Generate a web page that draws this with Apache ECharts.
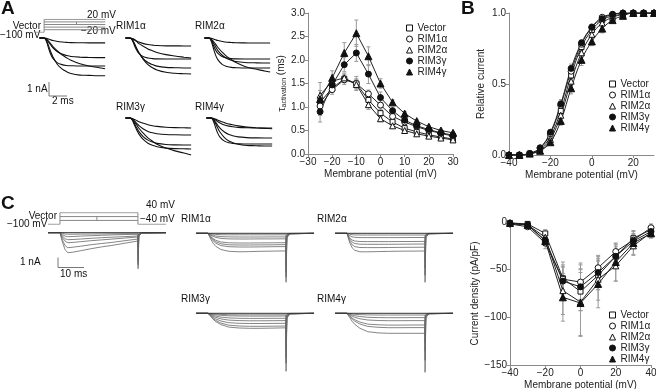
<!DOCTYPE html>
<html>
<head>
<meta charset="utf-8">
<script src="https://cdn.jsdelivr.net/npm/echarts@6/dist/echarts.min.js"></script>
<style>
  html, body { margin: 0; padding: 0; background: #fff; }
  #main { width: 656px; height: 389px; }
</style>
</head>
<body>
<div id="main"></div>
<script>
// ---------- data ----------
const groups = ['Vector', 'RIM1α', 'RIM2α', 'RIM3γ', 'RIM4γ']

// A right: activation time constant (ms)
const tauVoltage = [-25, -20, -15, -10, -5, 0, 5, 10, 15, 20, 25, 30]
const tauVector = [1.1, 1.4, 1.6, 1.5, 1.15, 0.87, 0.68, 0.55, 0.47, 0.41, 0.36, 0.32]
const tauRim1a = [1.02, 1.37, 1.58, 1.5, 1.28, 1.04, 0.8, 0.68, 0.58, 0.5, 0.44, 0.38]
const tauRim2a = [1.25, 1.55, 1.62, 1.48, 1.05, 0.75, 0.6, 0.5, 0.43, 0.38, 0.34, 0.3]
const tauRim3g = [0.9, 1.47, 1.9, 2.15, 1.7, 1.2, 0.92, 0.72, 0.6, 0.52, 0.45, 0.4]
const tauRim4g = [1.17, 1.62, 2.15, 2.57, 2.08, 1.5, 1.1, 0.86, 0.7, 0.58, 0.5, 0.45]
const tauVectorErr = [0.1, 0.08, 0.08, 0.1, 0.1, 0.08, 0.05, 0.04, 0.03, 0.03, 0.03, 0.02]
const tauRim1aErr = [0.1, 0.1, 0.1, 0.15, 0.08, 0.06, 0.05, 0.04, 0.03, 0.03, 0.03, 0.03]
const tauRim2aErr = [0.1, 0.08, 0.1, 0.1, 0.1, 0.06, 0.04, 0.03, 0.02, 0.02, 0.02, 0.02]
const tauRim3gErr = [0.22, 0.12, 0.15, 0.18, 0.2, 0.12, 0.08, 0.05, 0.04, 0.04, 0.03, 0.03]
const tauRim4gErr = [0.35, 0.15, 0.22, 0.28, 0.2, 0.1, 0.05, 0.04, 0.03, 0.03, 0.03, 0.03]

// B: relative current (activation curve)
const actVoltage = [-40, -35, -30, -25, -20, -15, -10, -5, 0, 5, 10, 15, 20, 25, 30]
const actVector = [0, 0, 0.01, 0.04, 0.13, 0.31, 0.56, 0.76, 0.88, 0.95, 0.98, 0.99, 1, 1, 1]
const actRim1a = [0, 0, 0.01, 0.05, 0.15, 0.35, 0.59, 0.78, 0.9, 0.97, 0.99, 1, 1, 1, 1]
const actRim2a = [0, 0, 0.01, 0.03, 0.11, 0.28, 0.52, 0.72, 0.85, 0.93, 0.97, 0.99, 1, 1, 1]
const actRim3g = [0, 0, 0.01, 0.05, 0.16, 0.36, 0.61, 0.79, 0.9, 0.96, 0.99, 1, 1, 1, 1]
const actRim4g = [0, 0, 0.01, 0.03, 0.09, 0.24, 0.47, 0.67, 0.8, 0.89, 0.95, 0.98, 1, 1, 1]
const actVectorErr = [0, 0, 0, 0.01, 0.02, 0.02, 0.02, 0.02, 0.01, 0.01, 0.01, 0, 0, 0, 0]
const actRim1aErr = [0, 0, 0, 0.01, 0.02, 0.03, 0.03, 0.02, 0.02, 0.01, 0.01, 0, 0, 0, 0]
const actRim2aErr = [0, 0, 0, 0.01, 0.02, 0.03, 0.03, 0.03, 0.02, 0.02, 0.01, 0.01, 0, 0, 0]
const actRim3gErr = [0, 0, 0, 0.01, 0.02, 0.03, 0.03, 0.02, 0.02, 0.01, 0.01, 0, 0, 0, 0]
const actRim4gErr = [0, 0, 0, 0.01, 0.02, 0.03, 0.04, 0.04, 0.03, 0.03, 0.02, 0.01, 0, 0, 0]

// C right: current density (pA/pF)
const ivVoltage = [-40, -30, -20, -10, 0, 10, 20, 30, 40]
const ivVector = [-1, -2, -12, -59, -73, -56, -36, -17, -8]
const ivRim1a = [-2, -5, -22, -60, -63, -48, -31, -19, -6]
const ivRim2a = [-1, -3, -16, -72, -84, -60, -46, -25, -11]
const ivRim3g = [-2, -3, -19, -62, -68, -53, -36, -20, -10]
const ivRim4g = [-1, -3, -20, -79, -85, -65, -42, -22, -12]
const ivVectorErr = [1, 2, 4, 12, 20, 15, 10, 8, 4]
const ivRim1aErr = [1, 2, 6, 15, 18, 12, 8, 6, 4]
const ivRim2aErr = [1, 2, 5, 25, 35, 22, 16, 10, 4]
const ivRim3gErr = [1, 2, 5, 20, 25, 18, 12, 8, 4]
const ivRim4gErr = [1, 2, 5, 25, 35, 25, 20, 12, 5]

// A left: current traces (nA) vs time (ms)
const traceTimeA = [-0.5, 0, 0.25, 0.5, 0.75, 1, 1.5, 2, 2.5, 3, 4, 5, 6, 6.8]
const tracesAVector = [
  [0, 0, -0.02, -0.07, -0.13, -0.18, -0.25, -0.29, -0.31, -0.33, -0.34, -0.35, -0.35, -0.35],
  [0, 0, -0.07, -0.28, -0.5, -0.7, -0.98, -1.15, -1.25, -1.32, -1.37, -1.39, -1.4, -1.4],
  [0, 0, -0.2, -0.7, -1.16, -1.46, -1.78, -1.9, -1.96, -1.98, -2, -2, -2, -2],
  [0, 0, -0.07, -0.23, -0.41, -0.61, -0.93, -1.2, -1.41, -1.59, -1.84, -2.0, -2.11, -2.2],
  [0, 0, -0.14, -0.54, -0.97, -1.35, -1.89, -2.21, -2.4, -2.54, -2.65, -2.67, -2.7, -2.7]
]
const tracesARim1a = [
  [0, 0, -0.03, -0.11, -0.21, -0.29, -0.4, -0.47, -0.51, -0.54, -0.56, -0.56, -0.57, -0.57],
  [0, 0, -0.04, -0.15, -0.26, -0.4, -0.6, -0.78, -0.91, -1.03, -1.19, -1.29, -1.37, -1.43],
  [0, 0, -0.15, -0.53, -0.87, -1.1, -1.34, -1.43, -1.47, -1.49, -1.5, -1.5, -1.5, -1.5],
  [0, 0, -0.11, -0.43, -0.77, -1.07, -1.5, -1.75, -1.9, -2.01, -2.1, -2.12, -2.14, -2.14],
  [0, 0, -0.1, -0.4, -0.75, -1.05, -1.55, -1.9, -2.12, -2.28, -2.45, -2.52, -2.55, -2.57]
]
const tracesARim2a = [
  [0, 0, -0.02, -0.07, -0.13, -0.18, -0.25, -0.3, -0.32, -0.34, -0.35, -0.36, -0.36, -0.36],
  [0, 0, -0.15, -0.53, -0.87, -1.1, -1.34, -1.43, -1.47, -1.49, -1.5, -1.5, -1.5, -1.5],
  [0, 0, -0.09, -0.36, -0.64, -0.9, -1.25, -1.47, -1.59, -1.68, -1.75, -1.77, -1.79, -1.79],
  [0, 0, -0.21, -0.75, -1.24, -1.56, -1.9, -2.03, -2.1, -2.12, -2.14, -2.14, -2.14, -2.14],
  [0, 0, -0.08, -0.25, -0.45, -0.68, -1.03, -1.33, -1.55, -1.75, -2.03, -2.2, -2.33, -2.43]
]
const tracesARim3g = [
  [0, 0, -0.03, -0.1, -0.18, -0.26, -0.38, -0.48, -0.55, -0.6, -0.66, -0.69, -0.7, -0.71],
  [0, 0, -0.05, -0.2, -0.38, -0.54, -0.79, -0.96, -1.06, -1.12, -1.18, -1.2, -1.21, -1.21],
  [0, 0, -0.1, -0.39, -0.7, -0.97, -1.35, -1.58, -1.72, -1.81, -1.89, -1.92, -1.93, -1.93],
  [0, 0, -0.14, -0.5, -0.85, -1.15, -1.55, -1.8, -1.95, -2.05, -2.15, -2.19, -2.2, -2.21],
  [0, 0, -0.08, -0.28, -0.5, -0.73, -1.1, -1.42, -1.66, -1.87, -2.15, -2.35, -2.5, -2.64]
]
const tracesARim4g = [
  [0, 0, -0.04, -0.14, -0.26, -0.36, -0.5, -0.58, -0.63, -0.67, -0.7, -0.71, -0.71, -0.71],
  [0, 0, -0.02, -0.08, -0.15, -0.22, -0.33, -0.43, -0.5, -0.56, -0.65, -0.7, -0.74, -0.77],
  [0, 0, -0.07, -0.29, -0.52, -0.72, -1.0, -1.18, -1.28, -1.35, -1.4, -1.42, -1.43, -1.43],
  [0, 0, -0.19, -0.65, -1.08, -1.36, -1.65, -1.77, -1.82, -1.84, -1.86, -1.86, -1.86, -1.86],
  [0, 0, -0.1, -0.4, -0.72, -1.0, -1.4, -1.64, -1.78, -1.88, -1.96, -1.98, -2.0, -2.0]
]

// C left: current traces (nA) vs time (ms), with tail current at step end
const traceTimeC = [-4.6, 0, 1, 2, 3, 5, 8, 12, 16, 20, 25, 30, 30.05, 30.35, 31.5, 40.8]
const tracesCVector = [
  [0, 0, -0.07, -0.13, -0.15, -0.15, -0.14, -0.13, -0.12, -0.11, -0.1, -0.1, -0.8, -0.06, -0.01, 0],
  [0, 0, -0.2, -0.34, -0.4, -0.38, -0.34, -0.3, -0.26, -0.22, -0.18, -0.15, -1.5, -0.12, -0.02, 0],
  [0, 0, -0.35, -0.6, -0.7, -0.68, -0.63, -0.56, -0.5, -0.45, -0.39, -0.33, -2.2, -0.18, -0.03, 0],
  [0, 0, -0.5, -0.85, -1.0, -0.97, -0.9, -0.8, -0.72, -0.64, -0.53, -0.43, -2.8, -0.23, -0.03, 0],
  [0, 0, -0.75, -1.3, -1.5, -1.45, -1.35, -1.2, -1.08, -0.97, -0.8, -0.63, -3.2, -0.27, -0.04, 0],
  [0, 0, -1.0, -1.7, -2.0, -1.95, -1.8, -1.6, -1.42, -1.27, -1.05, -0.83, -3.6, -0.3, -0.05, 0]
]
const tracesCRim1a = [
  [0, 0, -0.05, -0.08, -0.11, -0.14, -0.15, -0.15, -0.15, -0.15, -0.15, -0.15, -1.0, -0.08, -0.01, 0],
  [0, 0, -0.11, -0.2, -0.27, -0.33, -0.36, -0.37, -0.37, -0.37, -0.36, -0.36, -1.8, -0.15, -0.02, 0],
  [0, 0, -0.17, -0.31, -0.41, -0.51, -0.56, -0.57, -0.57, -0.56, -0.56, -0.55, -2.6, -0.2, -0.03, 0],
  [0, 0, -0.29, -0.53, -0.7, -0.87, -0.95, -0.97, -0.97, -0.96, -0.95, -0.94, -3.3, -0.28, -0.04, 0],
  [0, 0, -0.35, -0.64, -0.84, -1.05, -1.15, -1.17, -1.17, -1.16, -1.15, -1.13, -3.9, -0.33, -0.05, 0],
  [0, 0, -0.41, -0.75, -0.99, -1.23, -1.34, -1.37, -1.37, -1.36, -1.34, -1.33, -4.4, -0.37, -0.05, 0],
  [0, 0, -0.55, -1.0, -1.3, -1.62, -1.8, -1.85, -1.83, -1.8, -1.78, -1.76, -4.9, -0.45, -0.06, 0]
]
const tracesCRim2a = [
  [0, 0, -0.09, -0.14, -0.16, -0.17, -0.17, -0.17, -0.17, -0.17, -0.17, -0.17, -1.0, -0.08, -0.01, 0],
  [0, 0, -0.22, -0.35, -0.4, -0.43, -0.43, -0.43, -0.43, -0.43, -0.42, -0.42, -1.9, -0.15, -0.02, 0],
  [0, 0, -0.42, -0.67, -0.77, -0.82, -0.83, -0.83, -0.83, -0.82, -0.82, -0.81, -2.8, -0.22, -0.03, 0],
  [0, 0, -0.55, -0.88, -1.02, -1.09, -1.1, -1.1, -1.1, -1.09, -1.08, -1.07, -3.5, -0.28, -0.04, 0],
  [0, 0, -0.72, -1.15, -1.33, -1.42, -1.43, -1.43, -1.42, -1.41, -1.4, -1.39, -4.2, -0.34, -0.05, 0],
  [0, 0, -0.9, -1.45, -1.7, -1.85, -1.85, -1.83, -1.81, -1.79, -1.78, -1.77, -4.9, -0.42, -0.06, 0]
]
const tracesCRim3g = [
  [0, 0, -0.03, -0.06, -0.08, -0.11, -0.14, -0.15, -0.15, -0.15, -0.15, -0.15, -1.2, -0.08, -0.01, 0],
  [0, 0, -0.06, -0.11, -0.15, -0.2, -0.25, -0.27, -0.28, -0.28, -0.28, -0.27, -2.0, -0.15, -0.02, 0],
  [0, 0, -0.1, -0.2, -0.28, -0.38, -0.46, -0.5, -0.51, -0.51, -0.5, -0.5, -2.9, -0.22, -0.03, 0],
  [0, 0, -0.15, -0.3, -0.41, -0.56, -0.68, -0.73, -0.75, -0.75, -0.74, -0.73, -3.7, -0.3, -0.04, 0],
  [0, 0, -0.2, -0.41, -0.56, -0.77, -0.94, -1.0, -1.02, -1.02, -1.01, -1.0, -4.4, -0.37, -0.05, 0],
  [0, 0, -0.26, -0.52, -0.71, -0.98, -1.19, -1.27, -1.3, -1.3, -1.29, -1.27, -5.0, -0.42, -0.06, 0],
  [0, 0, -0.3, -0.6, -0.83, -1.13, -1.38, -1.47, -1.5, -1.5, -1.48, -1.45, -5.8, -0.5, -0.07, 0]
]
const tracesCRim4g = [
  [0, 0, -0.03, -0.07, -0.1, -0.13, -0.16, -0.17, -0.17, -0.17, -0.17, -0.17, -1.2, -0.08, -0.01, 0],
  [0, 0, -0.09, -0.17, -0.24, -0.32, -0.4, -0.43, -0.44, -0.44, -0.43, -0.43, -2.0, -0.15, -0.02, 0],
  [0, 0, -0.15, -0.29, -0.4, -0.55, -0.67, -0.72, -0.74, -0.74, -0.73, -0.73, -2.9, -0.22, -0.03, 0],
  [0, 0, -0.23, -0.47, -0.64, -0.88, -1.08, -1.15, -1.18, -1.18, -1.17, -1.17, -3.8, -0.3, -0.04, 0],
  [0, 0, -0.29, -0.57, -0.79, -1.07, -1.31, -1.4, -1.44, -1.44, -1.43, -1.43, -4.7, -0.37, -0.05, 0],
  [0, 0, -0.4, -0.8, -1.1, -1.5, -1.84, -1.96, -2.0, -2.0, -2.0, -2.0, -5.9, -0.45, -0.06, 0]
]

// voltage protocols (schematic levels, mV)
const protocolALevels = ['−100', '−20', '−10', '0', '10', '20']
const protocolCLevels = ['−100', '−40', '0', '40']
const protocolAEnd = 6.8
const protocolCEnd = 30

// scale bars
const scaleA = { nA: 1, ms: 2 }
const scaleC = { nA: 1, ms: 10 }

// ---------- styling ----------
const FONT = 'Liberation Sans'
const groupStyle = {
  'Vector': { symbol: 'rect', size: 5, fill: '#fff' },
  'RIM1α': { symbol: 'circle', size: 6, fill: '#fff' },
  'RIM2α': { symbol: 'triangle', size: 6, fill: '#fff' },
  'RIM3γ': { symbol: 'circle', size: 6, fill: '#111' },
  'RIM4γ': { symbol: 'triangle', size: 7, fill: '#111' }
}

const grids = []
const xAxes = []
const yAxes = []
const series = []

function addPanel (box, xOpt, yOpt) {
  grids.push({ left: box[0], top: box[1], width: box[2], height: box[3], containLabel: false, outerBoundsMode: 'none' })
  const idx = grids.length - 1
  xAxes.push(Object.assign({ gridIndex: idx }, xOpt))
  yAxes.push(Object.assign({ gridIndex: idx }, yOpt))
  return idx
}

const minus = v => String(v).replace('-', '−')
function axisStyle (extra) {
  return Object.assign({
    type: 'value',
    axisLine: { show: true, onZero: false, lineStyle: { color: '#8a8a8a', width: 1 } },
    axisTick: { show: true, length: 3, lineStyle: { color: '#8a8a8a' } },
    axisLabel: { color: '#222', fontSize: 10, fontFamily: FONT, margin: 3, formatter: minus },
    splitLine: { show: false },
    nameLocation: 'middle',
    nameTextStyle: { color: '#222', fontSize: 10, fontFamily: FONT }
  }, extra)
}
const hidden = (min, max) => ({ type: 'value', show: false, min, max })

function dataSeries (idx, name, xs, ys, smooth) {
  const st = groupStyle[name]
  series.push({
    type: 'line',
    name,
    xAxisIndex: idx,
    yAxisIndex: idx,
    data: xs.map((x, i) => [x, ys[i]]),
    symbol: st.symbol,
    symbolSize: st.size,
    showAllSymbol: true,
    smooth: smooth,
    itemStyle: { color: st.fill, borderColor: '#111', borderWidth: 1 },
    lineStyle: { color: '#222', width: 1 },
    z: 3,
    silent: true
  })
}

function errorBars (idx, xs, ys, errs) {
  series.push({
    type: 'custom',
    xAxisIndex: idx,
    yAxisIndex: idx,
    silent: true,
    z: 1,
    data: xs.map((x, i) => [x, ys[i] - errs[i], ys[i] + errs[i]]),
    encode: { x: 0, y: [1, 2] },
    renderItem (params, api) {
      const lo = api.coord([api.value(0), api.value(1)])
      const hi = api.coord([api.value(0), api.value(2)])
      const c = 2
      const st = { stroke: '#9a9a9a', lineWidth: 1 }
      return {
        type: 'group',
        children: [
          { type: 'line', shape: { x1: lo[0], y1: lo[1], x2: hi[0], y2: hi[1] }, style: st },
          { type: 'line', shape: { x1: lo[0] - c, y1: lo[1], x2: lo[0] + c, y2: lo[1] }, style: st },
          { type: 'line', shape: { x1: hi[0] - c, y1: hi[1], x2: hi[0] + c, y2: hi[1] }, style: st }
        ]
      }
    }
  })
}

function traceSeries (idx, times, traces, color, width, smooth) {
  traces.forEach(tr => {
    series.push({
      type: 'line',
      xAxisIndex: idx,
      yAxisIndex: idx,
      data: times.map((t, i) => [t, tr[i]]),
      symbol: 'none',
      smooth: smooth,
      lineStyle: { color, width },
      silent: true,
      clip: false
    })
  })
}

function segment (idx, pts, color, width) {
  series.push({
    type: 'line',
    xAxisIndex: idx,
    yAxisIndex: idx,
    data: pts,
    symbol: 'none',
    lineStyle: { color, width },
    silent: true,
    clip: false
  })
}

// ---------- panel A right: tau ----------
const gTau = addPanel([308, 13, 145, 141],
  axisStyle({ min: -30, max: 30, interval: 10, name: 'Membrane potential (mV)', nameGap: 15 }),
  axisStyle({
    min: 0, max: 3, interval: 0.5, nameGap: 19,
    name: '{t|τ}{s|activation} (ms)',
    axisLabel: { color: '#222', fontSize: 10, fontFamily: FONT, margin: 3, formatter: v => v.toFixed(1) },
    nameTextStyle: { color: '#222', fontSize: 10, fontFamily: FONT, rich: { t: { fontSize: 11, fontFamily: FONT, color: '#222' }, s: { fontSize: 7, fontFamily: FONT, color: '#222', verticalAlign: 'bottom', padding: [4, 0, 0, 0] } } }
  }))
;[[tauVector, tauVectorErr], [tauRim1a, tauRim1aErr], [tauRim2a, tauRim2aErr], [tauRim3g, tauRim3gErr], [tauRim4g, tauRim4gErr]]
  .forEach(([v, e]) => errorBars(gTau, tauVoltage, v, e))
dataSeries(gTau, 'Vector', tauVoltage, tauVector, false)
dataSeries(gTau, 'RIM1α', tauVoltage, tauRim1a, false)
dataSeries(gTau, 'RIM2α', tauVoltage, tauRim2a, false)
dataSeries(gTau, 'RIM3γ', tauVoltage, tauRim3g, false)
dataSeries(gTau, 'RIM4γ', tauVoltage, tauRim4g, false)

// ---------- panel B ----------
const gAct = addPanel([509, 13, 145, 142],
  axisStyle({ min: -40, max: 30, interval: 20, name: 'Membrane potential (mV)', nameGap: 15,
    axisLabel: { color: '#222', fontSize: 10, fontFamily: FONT, margin: 3, formatter: minus, showMaxLabel: false } }),
  axisStyle({ min: 0, max: 1, interval: 0.5, name: 'Relative current', nameGap: 23,
    axisLabel: { color: '#222', fontSize: 10, fontFamily: FONT, margin: 3, formatter: v => v.toFixed(1) } }))
;[[actVector, actVectorErr], [actRim1a, actRim1aErr], [actRim2a, actRim2aErr], [actRim3g, actRim3gErr], [actRim4g, actRim4gErr]]
  .forEach(([v, e]) => errorBars(gAct, actVoltage, v, e))
dataSeries(gAct, 'Vector', actVoltage, actVector, 0.4)
dataSeries(gAct, 'RIM1α', actVoltage, actRim1a, 0.4)
dataSeries(gAct, 'RIM2α', actVoltage, actRim2a, 0.4)
dataSeries(gAct, 'RIM3γ', actVoltage, actRim3g, 0.4)
dataSeries(gAct, 'RIM4γ', actVoltage, actRim4g, 0.4)

// ---------- panel C right: IV ----------
const gIv = addPanel([510, 222, 141, 143],
  axisStyle({ min: -40, max: 40, interval: 20, name: 'Membrane potential (mV)', nameGap: 15 }),
  axisStyle({ min: -150, max: 0, interval: 50, name: 'Current density (pA/pF)', nameGap: 27 }))
;[[ivVector, ivVectorErr], [ivRim1a, ivRim1aErr], [ivRim2a, ivRim2aErr], [ivRim3g, ivRim3gErr], [ivRim4g, ivRim4gErr]]
  .forEach(([v, e]) => errorBars(gIv, ivVoltage, v, e))
dataSeries(gIv, 'Vector', ivVoltage, ivVector, false)
dataSeries(gIv, 'RIM1α', ivVoltage, ivRim1a, false)
dataSeries(gIv, 'RIM2α', ivVoltage, ivRim2a, false)
dataSeries(gIv, 'RIM3γ', ivVoltage, ivRim3g, false)
dataSeries(gIv, 'RIM4γ', ivVoltage, ivRim4g, false)

// ---------- panel A left: protocol + traces (9 px/ms, 14 px/nA) ----------
const gProtA = addPanel([36, 19.3, 69.3, 13], hidden(-0.9, 6.8),
  { type: 'category', show: false, boundaryGap: false, data: protocolALevels })
segment(gProtA, [[-0.9, 0], [0, 0], [0, protocolALevels.length - 1]], '#888', 1)
for (let k = 1; k < protocolALevels.length; k++) segment(gProtA, [[0, k], [protocolAEnd, k]], '#888', 1)
segment(gProtA, [[3.6, 3], [3.6, 4]], '#888', 1)

const traceBoxesA = [
  [39, 35.2, tracesAVector],
  [125, 35.2, tracesARim1a],
  [204, 35.2, tracesARim2a],
  [125, 115.2, tracesARim3g],
  [206, 115.2, tracesARim4g]
]
traceBoxesA.forEach(([l, t, tr]) => {
  const g = addPanel([l, t, 66.15, 44.8], hidden(-0.55, 6.8), hidden(-3, 0.2))
  traceSeries(g, traceTimeA, tr, '#111', 1.1, 0.35)
})
const gScaleA = addPanel([49, 82, 18, 14], hidden(0, scaleA.ms), hidden(0, scaleA.nA))
segment(gScaleA, [[0, scaleA.nA], [0, 0], [scaleA.ms, 0]], '#777', 1)

// ---------- panel C left: protocol + traces (2.6 px/ms, 10 px/nA) ----------
const gProtC = addPanel([48, 212.7, 118, 11.6], hidden(-4.6, 40.8),
  { type: 'category', show: false, boundaryGap: false, data: protocolCLevels })
const topC = protocolCLevels.length - 1
segment(gProtC, [[-4.6, 0], [0, 0], [0, topC]], '#888', 1)
for (let k = 1; k < protocolCLevels.length; k++) segment(gProtC, [[0, k], [protocolCEnd, k]], '#888', 1)
segment(gProtC, [[protocolCEnd, topC], [protocolCEnd, 0], [40.8, 0]], '#888', 1)
segment(gProtC, [[14.2, 1], [14.2, 2]], '#888', 1)

const traceBoxesC = [
  [48, 230.7, 40, -3.8, tracesCVector],
  [196, 231.3, 52, -5.0, tracesCRim1a],
  [335, 231.3, 52, -5.0, tracesCRim2a],
  [196, 311.3, 62, -6.0, tracesCRim3g],
  [335, 311.3, 62, -6.0, tracesCRim4g]
]
traceBoxesC.forEach(([l, t, h, ymin, tr]) => {
  const g = addPanel([l, t, 118, h], hidden(-4.6, 40.8), hidden(ymin, 0.2))
  traceSeries(g, traceTimeC, tr, '#666', 0.8, false)
  segment(g, [[-4.6, 0], [40.8, 0]], '#333', 1)
})
const gScaleC = addPanel([58, 257.5, 26, 10], hidden(0, scaleC.ms), hidden(0, scaleC.nA))
segment(gScaleC, [[0, scaleC.nA], [0, 0], [scaleC.ms, 0]], '#777', 1)

// ---------- legends ----------
function legendAt (left, top) {
  return {
    left, top,
    orient: 'vertical',
    itemWidth: 6, itemHeight: 6, itemGap: 1,
    selectedMode: false,
    textStyle: { fontSize: 10, fontFamily: FONT, color: '#222', lineHeight: 9 },
    data: groups.map(g => ({
      name: g,
      icon: groupStyle[g].symbol,
      itemStyle: { color: groupStyle[g].fill, borderColor: '#111', borderWidth: 1 }
    }))
  }
}

// ---------- text labels ----------
const labels = [
  ['A', 1, 9, 19, 'bold', 'left'], ['B', 461, 9, 19, 'bold', 'left'], ['C', 1, 204, 19, 'bold', 'left'],
  ['Vector', 41, 26, 10, 'normal', 'right'], ['−100 mV', 0, 35, 10, 'normal', 'left'],
  ['20 mV', 87, 15.5, 10, 'normal', 'left'], ['−20 mV', 81, 31.5, 10, 'normal', 'left'],
  ['RIM1α', 116, 26, 10, 'normal', 'left'], ['RIM2α', 195, 26, 10, 'normal', 'left'],
  ['RIM3γ', 116, 107, 10, 'normal', 'left'], ['RIM4γ', 195, 107, 10, 'normal', 'left'],
  ['1 nA', 27, 89, 10, 'normal', 'left'], ['2 ms', 52, 101, 10, 'normal', 'left'],
  ['Vector', 57, 216, 10, 'normal', 'right'], ['−100 mV', 7, 224, 10, 'normal', 'left'],
  ['40 mV', 146, 205, 10, 'normal', 'left'], ['−40 mV', 140, 219, 10, 'normal', 'left'],
  ['RIM1α', 181, 219, 10, 'normal', 'left'], ['RIM2α', 317, 219, 10, 'normal', 'left'],
  ['RIM3γ', 181, 299, 10, 'normal', 'left'], ['RIM4γ', 317, 299, 10, 'normal', 'left'],
  ['1 nA', 20, 262, 10, 'normal', 'left'], ['10 ms', 60, 274, 10, 'normal', 'left']
]
const graphic = labels.map(([text, x, y, size, weight, align]) => ({
  type: 'text',
  x, y,
  silent: true,
  style: {
    text,
    font: weight + ' ' + size + 'px "' + FONT + '"',
    fill: '#111',
    align, textAlign: align,
    verticalAlign: 'middle', textVerticalAlign: 'middle'
  }
}))

const chart = echarts.init(document.getElementById('main'), null, { renderer: 'canvas' })
chart.setOption({
  animation: false,
  backgroundColor: '#fff',
  textStyle: { fontFamily: FONT },
  grid: grids,
  xAxis: xAxes,
  yAxis: yAxes,
  legend: [legendAt(401, 18), legendAt(604, 74), legendAt(604, 305)],
  graphic,
  series
})
</script>
</body>
</html>
